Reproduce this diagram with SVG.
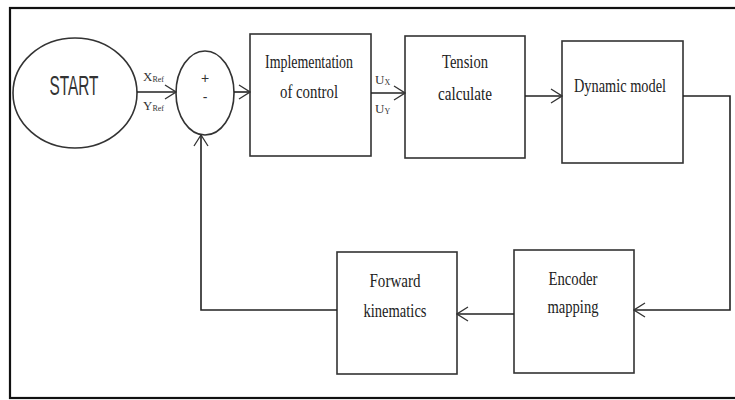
<svg xmlns="http://www.w3.org/2000/svg" width="735" height="400" viewBox="0 0 735 400">
<style>
.box{fill:#fff;stroke:#333;stroke-width:1.6}
.t{font-family:"Liberation Serif",serif;font-size:18px;fill:#222;text-anchor:middle}
.s{font-family:"Liberation Serif",serif;font-size:13px;fill:#333}
.ss{font-size:8px}
.c{fill:none;stroke:#222;stroke-width:1.6}
</style>
<defs>
<marker id="a" markerWidth="13" markerHeight="16" refX="12" refY="8" orient="auto" markerUnits="userSpaceOnUse">
<path d="M1,1 L12,8 L1,15" fill="none" stroke="#333" stroke-width="1.3"/>
</marker>
</defs>
<rect x="10" y="8" width="740" height="390" fill="#fff" stroke="#111" stroke-width="2.2"/>
<g id="start">
<ellipse cx="75" cy="93" rx="62" ry="55" class="box"/>
<text x="74" y="95" font-family="'Liberation Sans',sans-serif" font-size="27" fill="#333" text-anchor="middle" textLength="49" lengthAdjust="spacingAndGlyphs">START</text>
</g>
<g id="sum">
<ellipse cx="205" cy="93" rx="29" ry="42" class="box"/>
<text x="205" y="83" font-family="'Liberation Sans',sans-serif" font-size="14" fill="#333" text-anchor="middle">+</text>
<text x="205" y="102" font-family="'Liberation Sans',sans-serif" font-size="14" fill="#333" text-anchor="middle">-</text>
</g>
<g id="impl">
<rect x="250" y="34" width="121" height="122" class="box"/>
<text x="309" y="68" class="t" textLength="88" lengthAdjust="spacingAndGlyphs">Implementation</text>
<text x="309" y="98" class="t" textLength="58" lengthAdjust="spacingAndGlyphs">of control</text>
</g>
<g id="tension">
<rect x="405" y="36" width="120" height="122" class="box"/>
<text x="465" y="68" class="t" textLength="46" lengthAdjust="spacingAndGlyphs">Tension</text>
<text x="465" y="100" class="t" textLength="54" lengthAdjust="spacingAndGlyphs">calculate</text>
</g>
<g id="dynamic">
<rect x="562" y="41" width="121" height="122" class="box"/>
<text x="620" y="92" class="t" textLength="92" lengthAdjust="spacingAndGlyphs">Dynamic model</text>
</g>
<g id="encoder">
<rect x="514" y="250" width="120" height="123" class="box"/>
<text x="573" y="285" class="t" textLength="49" lengthAdjust="spacingAndGlyphs">Encoder</text>
<text x="573" y="313" class="t" textLength="51" lengthAdjust="spacingAndGlyphs">mapping</text>
</g>
<g id="forward">
<rect x="337" y="252" width="120" height="122" class="box"/>
<text x="395" y="287" class="t" textLength="51" lengthAdjust="spacingAndGlyphs">Forward</text>
<text x="395" y="317" class="t" textLength="63" lengthAdjust="spacingAndGlyphs">kinematics</text>
</g>
<g id="connectors">
<path d="M137,92 H176" class="c" marker-end="url(#a)"/>
<path d="M234,92 H250" class="c" marker-end="url(#a)"/>
<path d="M371,93 H405" class="c" marker-end="url(#a)"/>
<path d="M525,96 H562" class="c" marker-end="url(#a)"/>
<path d="M683,96 H730 V310 H634" class="c" marker-end="url(#a)"/>
<path d="M514,314 H457" class="c" marker-end="url(#a)"/>
<path d="M337,310 H201 V135" class="c" marker-end="url(#a)"/>
</g>
<g id="labels">
<text x="143" y="81" class="s">X<tspan class="ss" dy="1">Ref</tspan></text>
<text x="143" y="110" class="s">Y<tspan class="ss" dy="1">Ref</tspan></text>
<text x="375" y="84" class="s">U<tspan class="ss" dy="1">X</tspan></text>
<text x="375" y="113" class="s">U<tspan class="ss" dy="1">Y</tspan></text>
</g>
</svg>
